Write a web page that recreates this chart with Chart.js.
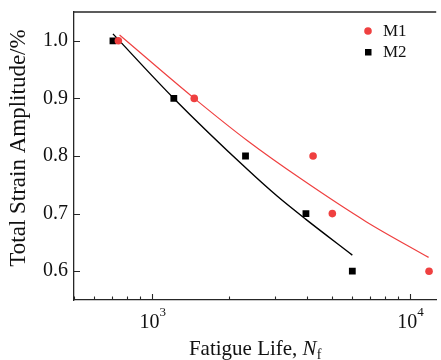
<!DOCTYPE html>
<html>
<head>
<meta charset="utf-8">
<script src="https://cdn.jsdelivr.net/npm/chart.js@4.4.1/dist/chart.umd.min.js"></script>
<style>
  html, body { margin: 0; padding: 0; background: #fff; }
</style>
</head>
<body>
<canvas id="fatigueChart" width="441" height="360"></canvas>
<script>
/* ---------------- DATA ---------------- */
const seriesNames = ["M1", "M2"];

const m1Life = [743, 1463, 4226, 5019, 11900];
const m1Strain = [1.0, 0.9, 0.8, 0.7, 0.6];
const m2Life = [708, 1219, 2312, 3965, 5999];
const m2Strain = [1.0, 0.9, 0.8, 0.7, 0.6];

// fitted curves
const m1FitLife = [751, 1463, 2360, 3830, 6787, 11852];
const m1FitStrain = [1.010, 0.900, 0.826, 0.759, 0.686, 0.624];
const m2FitLife = [708, 1219, 2360, 3073, 3965, 5999];
const m2FitStrain = [1.012, 0.900, 0.776, 0.730, 0.690, 0.628];

const xMajorTicks = [1000, 10000];
const xTickBase = "10";
const xTickExp = ["3", "4"];
const xMinorTicks = [500, 600, 700, 800, 900, 2000, 3000, 4000, 5000, 6000, 7000, 8000, 9000];
const yTicks = [0.6, 0.7, 0.8, 0.9, 1.0];

const RED = "#ef4040";
const AXIS = "#262626";
const SERIF = "'Liberation Serif', 'Times New Roman', serif";

const pts = (xs, ys) => xs.map((x, i) => ({ x: x, y: ys[i] }));

/* ---------------- FRAME / TICKS / TITLES / LEGEND ---------------- */
const decorPlugin = {
  id: "decor",
  afterDraw(chart) {
    const ctx = chart.ctx;
    const area = chart.chartArea;
    const xs = chart.scales.x;
    const ys = chart.scales.y;

    ctx.save();
    ctx.strokeStyle = AXIS;
    ctx.lineWidth = 1.3;

    // top spine
    ctx.beginPath();
    ctx.moveTo(area.left, area.top);
    ctx.lineTo(area.right, area.top);
    ctx.stroke();

    // inward ticks
    ctx.lineWidth = 1.1;
    ctx.beginPath();
    xMajorTicks.forEach(v => {
      const px = Math.round(xs.getPixelForValue(v)) + 0.5;
      ctx.moveTo(px, area.bottom);
      ctx.lineTo(px, area.bottom - 6);
    });
    xMinorTicks.forEach(v => {
      const px = Math.round(xs.getPixelForValue(v)) + 0.5;
      ctx.moveTo(px, area.bottom);
      ctx.lineTo(px, area.bottom - 3.5);
    });
    yTicks.forEach(v => {
      const py = Math.round(ys.getPixelForValue(v)) + 0.5;
      ctx.moveTo(area.left, py);
      ctx.lineTo(area.left + 6, py);
    });
    ctx.stroke();

    // x tick labels: 10^n
    ctx.fillStyle = "#111";
    ctx.textBaseline = "alphabetic";
    xMajorTicks.forEach((v, i) => {
      const px = xs.getPixelForValue(v);
      ctx.font = "20px " + SERIF;
      const wBase = ctx.measureText(xTickBase).width;
      ctx.font = "13px " + SERIF;
      const wExp = ctx.measureText(xTickExp[i]).width;
      const left = px - (wBase + wExp) / 2 + 1;
      ctx.font = "20px " + SERIF;
      ctx.textAlign = "left";
      ctx.fillText(xTickBase, left, 328);
      ctx.font = "13px " + SERIF;
      ctx.fillText(xTickExp[i], left + wBase, 316);
    });

    // x title: Fatigue Life, N_f
    const t1 = "Fatigue Life, ";
    ctx.font = "21px " + SERIF;
    const w1 = ctx.measureText(t1).width;
    ctx.font = "italic 21px " + SERIF;
    const wN = ctx.measureText("N").width;
    ctx.font = "14px " + SERIF;
    const wF = ctx.measureText("f").width;
    let tx = (area.left + area.right) / 2 - (w1 + wN + wF) / 2;
    ctx.textAlign = "left";
    ctx.font = "21px " + SERIF;
    ctx.fillText(t1, tx, 355);
    ctx.font = "italic 21px " + SERIF;
    ctx.fillText("N", tx + w1, 355);
    ctx.font = "14px " + SERIF;
    ctx.fillText("f", tx + w1 + wN, 359);

    // y title
    ctx.save();
    ctx.translate(19, 148);
    ctx.rotate(-Math.PI / 2);
    ctx.font = "23px " + SERIF;
    ctx.textAlign = "center";
    ctx.textBaseline = "middle";
    ctx.fillText("Total Strain Amplitude/%", 0, 0);
    ctx.restore();

    // legend
    const legendY = [31, 52];
    ctx.font = "17px " + SERIF;
    ctx.textAlign = "left";
    ctx.textBaseline = "middle";
    [0, 1].forEach(i => {
      const ds = chart.data.datasets[i];
      ctx.fillStyle = ds.backgroundColor;
      if (ds.pointStyle === "circle") {
        ctx.beginPath();
        ctx.arc(368, legendY[i], 3.8, 0, Math.PI * 2);
        ctx.fill();
      } else {
        ctx.fillRect(365, legendY[i] - 3, 6.5, 6.5);
      }
      ctx.fillStyle = "#111";
      ctx.fillText(ds.label, 383, legendY[i] + 1);
    });

    ctx.restore();
  }
};

/* ---------------- CHART ---------------- */
new Chart(document.getElementById("fatigueChart"), {
  type: "scatter",
  data: {
    datasets: [
      {
        label: seriesNames[0],
        data: pts(m1Life, m1Strain),
        pointStyle: "circle",
        pointRadius: 3.8,
        backgroundColor: RED,
        borderColor: RED,
        borderWidth: 0,
        showLine: false
      },
      {
        label: seriesNames[1],
        data: pts(m2Life, m2Strain),
        pointStyle: "rect",
        pointRadius: 4.8,
        backgroundColor: "#000",
        borderColor: "#000",
        borderWidth: 0,
        showLine: false
      },
      {
        label: "M1 fit",
        data: pts(m1FitLife, m1FitStrain),
        showLine: true,
        borderColor: RED,
        borderWidth: 1.2,
        pointRadius: 0,
        tension: 0.4,
        cubicInterpolationMode: "monotone"
      },
      {
        label: "M2 fit",
        data: pts(m2FitLife, m2FitStrain),
        showLine: true,
        borderColor: "#000",
        borderWidth: 1.4,
        pointRadius: 0,
        tension: 0.4,
        cubicInterpolationMode: "monotone"
      }
    ]
  },
  options: {
    responsive: false,
    animation: false,
    devicePixelRatio: 1,
    layout: { padding: { top: 12, right: 0, left: 0, bottom: 0 } },
    plugins: {
      legend: { display: false },
      tooltip: { enabled: false }
    },
    scales: {
      x: {
        type: "logarithmic",
        min: 500,
        max: 12685,
        grid: { display: false, drawTicks: false },
        border: { display: true, color: AXIS, width: 1.3 },
        ticks: { display: false },
        afterFit: s => { s.height = 60; s.paddingLeft = 0; s.paddingRight = 0; }
      },
      y: {
        min: 0.55,
        max: 1.05,
        afterBuildTicks: s => { s.ticks = yTicks.map(v => ({ value: v })); },
        grid: { display: false, drawTicks: false },
        border: { display: true, color: AXIS, width: 1.3 },
        ticks: {
          padding: 6,
          color: "#111",
          font: { family: SERIF, size: 20 },
          callback: v => v.toFixed(1)
        },
        afterFit: s => { s.width = 74; s.paddingTop = 0; s.paddingBottom = 0; }
      }
    }
  },
  plugins: [decorPlugin]
});
</script>
</body>
</html>
